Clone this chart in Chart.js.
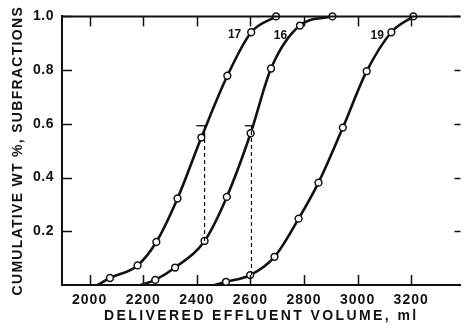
<!DOCTYPE html>
<html><head><meta charset="utf-8">
<script src="https://cdn.jsdelivr.net/npm/chart.js@4.4.1/dist/chart.umd.min.js"></script>
<style>html,body{margin:0;padding:0;background:#fff}#wrap{width:466px;height:332px;position:relative}</style>
</head><body><div id="wrap"><canvas id="c"></canvas></div>
<script>
// Axis ticks
const xTicks = [2000, 2200, 2400, 2600, 2800, 3000, 3200];
const xTickLabels = ['2000', '2200', '2400', '2600', '2800', '3000', '3200'];
const yTicks = [0.2, 0.4, 0.6, 0.8, 1.0];
const yTickLabels = ['0.2', '0.4', '0.6', '0.8', '1.0'];

// Subfraction 17 (first value = curve start, no marker)
const vol17  = [2030, 2076, 2179, 2249, 2328, 2417, 2514, 2603, 2696];
const frac17 = [0, 0.026, 0.073, 0.16, 0.322, 0.549, 0.779, 0.941, 1.0];
// Subfraction 16
const vol16  = [2190, 2245, 2319, 2429, 2512, 2601, 2677, 2785, 2906];
const frac16 = [0, 0.019, 0.065, 0.164, 0.328, 0.565, 0.806, 0.966, 1.0];
// Subfraction 19
const vol19  = [2466, 2509, 2599, 2690, 2780, 2854, 2945, 3034, 3126, 3208];
const frac19 = [0, 0.012, 0.037, 0.105, 0.247, 0.381, 0.586, 0.796, 0.941, 1.0];

// Dashed connectors
const dashA_x = [2429, 2429];
const dashA_y = [0.164, 0.593];
const capA_x = [2398, 2432];
const capA_y = [0.593, 0.593];
const dashB_x = [2604, 2604];
const dashB_y = [0.037, 0.593];
const capB_x = [2579, 2607];
const capB_y = [0.593, 0.593];

// Curve labels
const curveNames = ['17', '16', '19'];
const curveLabelX = [2541, 2712, 3073];
const curveLabelY = [0.933, 0.93, 0.93];

const INK = '#111';
const zip = (xs, ys) => xs.map((x, i) => ({x: x, y: ys[i]}));

function curve(xs, ys) {
  return {
    data: zip(xs, ys),
    borderColor: INK,
    borderWidth: 2.6,
    cubicInterpolationMode: 'monotone',
    pointRadius: ctx => ctx.dataIndex === 0 ? 0 : 3.4,
    pointBorderWidth: 1.5,
    pointBorderColor: INK,
    pointBackgroundColor: '#fff',
    clip: false
  };
}
function dashed(xs, ys) {
  return {
    data: zip(xs, ys),
    borderColor: INK,
    borderWidth: 1.2,
    borderDash: [4, 3],
    pointRadius: 0,
    clip: false
  };
}
function solid(xs, ys) {
  return {
    data: zip(xs, ys),
    borderColor: INK,
    borderWidth: 1.3,
    pointRadius: 0,
    clip: false
  };
}

const spacingPlugin = {
  id: 'spacing',
  beforeDraw(chart) {
    Object.values(chart.scales).forEach(s => {
      if (s._wrapped) return;
      s._wrapped = true;
      const dt = s.drawTitle.bind(s), dl = s.drawLabels.bind(s);
      s.drawTitle = function () {
        const c = this.ctx; c.save();
        c.letterSpacing = this.axis === 'x' ? '2.4px' : '1.3px';
        dt(); c.restore();
      };
      s.drawLabels = function (a) {
        const c = this.ctx; c.save();
        c.letterSpacing = this.axis === 'x' ? '1px' : '0.5px';
        dl(a); c.restore();
      };
    });
  }
};

const framePlugin = {
  id: 'frame',
  afterDatasetsDraw(chart) {
    const {ctx, chartArea: a, scales: {x, y}} = chart;
    ctx.save();
    ctx.strokeStyle = INK;
    // top border
    ctx.lineWidth = 2;
    ctx.beginPath(); ctx.moveTo(a.left, a.top); ctx.lineTo(a.right, a.top); ctx.stroke();
    // inward ticks
    ctx.lineWidth = 1.5;
    const L = 10;
    xTicks.forEach(v => {
      const px = Math.round(x.getPixelForValue(v)) + 0.5;
      ctx.beginPath(); ctx.moveTo(px, a.bottom); ctx.lineTo(px, a.bottom - L); ctx.stroke();
      ctx.beginPath(); ctx.moveTo(px, a.top); ctx.lineTo(px, a.top + L); ctx.stroke();
    });
    yTicks.forEach(v => {
      const py = Math.round(y.getPixelForValue(v)) + 0.5;
      ctx.beginPath(); ctx.moveTo(a.left, py); ctx.lineTo(a.left + L, py); ctx.stroke();
      ctx.beginPath(); ctx.moveTo(a.right, py); ctx.lineTo(a.right - 6, py); ctx.stroke();
    });
    // curve labels
    ctx.fillStyle = INK;
    ctx.font = 'bold 12px "Liberation Sans", Arial, sans-serif';
    ctx.textAlign = 'center';
    ctx.textBaseline = 'middle';
    curveNames.forEach((t, i) => {
      ctx.fillText(t, x.getPixelForValue(curveLabelX[i]), y.getPixelForValue(curveLabelY[i]));
    });
    ctx.restore();
  }
};

const tickFont = {family: '"Liberation Sans", Arial, sans-serif', size: 14, weight: 'bold'};

new Chart(document.getElementById('c'), {
  type: 'line',
  data: {
    datasets: [
      dashed(dashA_x, dashA_y), solid(capA_x, capA_y),
      dashed(dashB_x, dashB_y), solid(capB_x, capB_y),
      curve(vol17, frac17), curve(vol16, frac16), curve(vol19, frac19)
    ]
  },
  options: {
    responsive: true,
    maintainAspectRatio: false,
    animation: false,
    devicePixelRatio: 1,
    layout: {padding: {top: 15, right: 0, left: 0, bottom: 0}},
    plugins: {legend: {display: false}, tooltip: {enabled: false}},
    scales: {
      x: {
        type: 'linear',
        min: 1897, max: 3384,
        afterBuildTicks: s => { s.ticks = xTicks.map(v => ({value: v})); },
        afterFit: s => { s.height = 47; },
        ticks: {
          color: INK, font: tickFont, padding: 7, maxRotation: 0, autoSkip: false,
          callback: v => xTickLabels[xTicks.indexOf(v)]
        },
        grid: {display: true, drawOnChartArea: false, drawTicks: false},
        border: {display: true, color: INK, width: 2},
        title: {
          display: true, text: 'DELIVERED EFFLUENT VOLUME, ml', color: INK,
          font: {family: '"Liberation Sans", Arial, sans-serif', size: 14, weight: 'bold'},
          padding: {top: 0, bottom: 7}
        }
      },
      y: {
        type: 'linear',
        min: 0, max: 1,
        afterBuildTicks: s => { s.ticks = yTicks.map(v => ({value: v})); },
        afterFit: s => { s.width = 62; },
        ticks: {
          color: INK, font: tickFont, padding: 8,
          callback: v => yTickLabels[yTicks.indexOf(v)]
        },
        grid: {display: true, drawOnChartArea: false, drawTicks: false},
        border: {display: true, color: INK, width: 2},
        title: {
          display: true, text: 'CUMULATIVE WT %, SUBFRACTIONS', color: INK,
          font: {family: '"Liberation Sans", Arial, sans-serif', size: 14, weight: 'bold'},
          padding: {top: 10, bottom: 0}
        }
      }
    }
  },
  plugins: [spacingPlugin, framePlugin]
});
</script>
</body></html>
